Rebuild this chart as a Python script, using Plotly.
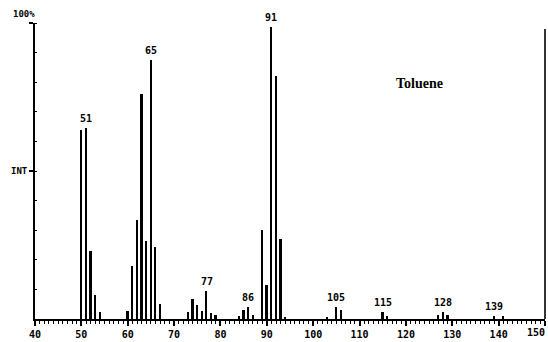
import plotly.graph_objects as go

# m/z values and relative intensities (%)
mz = [50, 51, 52, 53, 54, 60, 61, 62, 63, 64, 65, 66, 67,
      73, 74, 75, 76, 77, 78, 79, 84, 85, 86, 87, 89, 90, 91, 92, 93, 94,
      103, 105, 106, 115, 116, 127, 128, 129, 139, 141]
intensity = [64, 64.5, 23, 8, 2.4, 2.7, 18, 33.4, 76, 26.5, 87.5, 24.4, 5,
             2.4, 6.8, 4.7, 2.7, 9.6, 2, 1.4, 1.1, 3, 4, 1.4, 30, 11.5, 98.5, 82, 27, 0.6,
             0.7, 4.2, 3, 2.3, 1, 1.5, 2.2, 1.2, 1, 1]

label_mz = [51, 65, 77, 86, 91, 105, 115, 128, 139]
label_int = [64.5, 87.5, 9.6, 4, 98.5, 4.2, 2.3, 2.2, 1]

x_ticks = [40, 50, 60, 70, 80, 90, 100, 110, 120, 130, 140, 150]
y_tick_vals = [50, 100]

FONT = "DejaVu Sans Mono"

fig = go.Figure()
fig.add_trace(go.Bar(x=mz, y=intensity, width=0.38,
                     marker=dict(color="black", line=dict(width=0)),
                     showlegend=False, hoverinfo="x+y"))

for m, h in zip(label_mz, label_int):
    fig.add_annotation(x=m, y=h, text="<b>%d</b>" % m, showarrow=False,
                       yanchor="bottom", yshift=2,
                       font=dict(family=FONT, size=10, color="black"))

# last x tick label, kept inside the page at the right edge
fig.add_annotation(x=1, xref="paper", y=0, yref="y", text="<b>%d</b>" % x_ticks[-1],
                   showarrow=False, yanchor="top", yshift=-6, xanchor="right", xshift=2,
                   font=dict(family=FONT, size=10, color="black"))

# y-axis annotation labels
fig.add_annotation(xref="paper", yref="y", x=0, y=100, text="<b>100%</b>",
                   showarrow=False, xanchor="right", yanchor="bottom", xshift=2, yshift=2,
                   font=dict(family=FONT, size=9, color="black"))
fig.add_annotation(xref="paper", yref="y", x=0, y=50, text="<b>INT</b>",
                   showarrow=False, xanchor="right", yanchor="middle", xshift=-5,
                   font=dict(family=FONT, size=9, color="black"))

fig.add_annotation(x=123, y=79.5, text="<b>Toluene</b>", showarrow=False,
                   font=dict(family="Liberation Serif", size=14, color="black"))

# right frame line
fig.add_shape(type="line", xref="paper", yref="y", x0=1, x1=1, y0=0, y1=98,
              line=dict(color="#333333", width=2))

fig.update_layout(
    width=548, height=342,
    margin=dict(l=35, r=3, t=23, b=23),
    paper_bgcolor="white", plot_bgcolor="white",
    bargap=0,
)
fig.update_xaxes(range=[40, 150], tickvals=x_ticks, ticktext=["<b>%d</b>" % v for v in x_ticks],
                 ticks="outside", ticklen=5, tickwidth=1.5, tickcolor="black",
                 showline=True, linecolor="black", linewidth=1.5,
                 showgrid=False, zeroline=False,
                 tickfont=dict(family=FONT, size=10, color="black"),
                 minor=dict(dtick=1, ticks="outside", ticklen=3, tickcolor="black", tickwidth=1))
fig.update_yaxes(range=[0, 100], tickvals=y_tick_vals, ticktext=["", ""],
                 ticks="outside", ticklen=4, tickwidth=1.5, tickcolor="black",
                 showline=True, linecolor="black", linewidth=1.5,
                 showgrid=False, zeroline=False,
                 minor=dict(dtick=10, ticks="inside", ticklen=2, tickcolor="black", tickwidth=1))

fig.write_html("out.html")
